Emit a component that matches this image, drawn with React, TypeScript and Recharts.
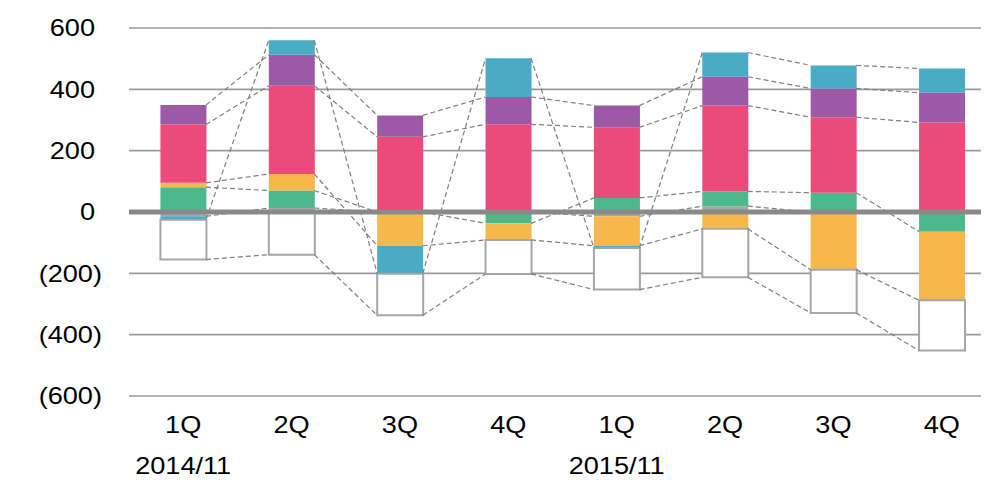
import {
  ComposedChart,
  Bar,
  Line,
  XAxis,
  YAxis,
  CartesianGrid,
  ReferenceLine,
} from "recharts";

// quarters and the fiscal-year label under the first quarter of each year
const quarters = ["1Q", "2Q", "3Q", "4Q", "1Q", "2Q", "3Q", "4Q"];
const yearLabels = ["2014/11", "", "", "", "2015/11", "", "", ""];

// stacked components, bottom to top (negatives stack downwards in the same order)
const grayVals = [-14, 13, 0, 0, -14, 19, 0, 0];
const greenVals = [81, 57, 0, -37, 46, 48, 63, -64];
const yellowVals = [14, 54, -110, -54, -96, -55, -188, -224];
const pinkVals = [190, 288, 245, 286, 230, 280, 246, 292];
const purpleVals = [64, 101, 70, 89, 71, 94, 94, 97];
const blueVals = [-11, 47, -91, 126, -7, 79, 75, 79];
const whiteVals = [-130, -139, -136, -111, -136, -158, -141, -164];

const yTicks = [-600, -400, -200, 0, 200, 400, 600];

const SERIES = [
  { key: "gray", values: grayVals, fill: "#a5a5a5" },
  { key: "green", values: greenVals, fill: "#4bb98c" },
  { key: "yellow", values: yellowVals, fill: "#f7b84b" },
  { key: "pink", values: pinkVals, fill: "#ec4a78" },
  { key: "purple", values: purpleVals, fill: "#9b59a6" },
  { key: "blue", values: blueVals, fill: "#4aabc5" },
  { key: "white", values: whiteVals, fill: "#ffffff" },
];

const FONT = '"Liberation Sans", Arial, sans-serif';
const FONT_SIZE = 23;
const STRETCH = 1.18; // the original labels are set wide
const CATEGORY_GAP = 0.29; // per side, fraction of the band
const HALF_BAR = 0.5 - CATEGORY_GAP;

const rows = quarters.map((q, i) => {
  const row: Record<string, string | number> = { q, idx: i };
  SERIES.forEach((s) => (row[s.key] = s.values[i]));
  return row;
});

// where each series ends in each stacked bar (same sign-split stacking as the bars)
const stackEnds = quarters.map((_, i) => {
  let pos = 0;
  let neg = 0;
  const ends: Record<string, number> = {};
  SERIES.forEach((s) => {
    const v = s.values[i];
    if (v >= 0) {
      pos += v;
      ends[s.key] = pos;
    } else {
      neg += v;
      ends[s.key] = neg;
    }
  });
  return ends;
});

// series lines: right edge of one bar to left edge of the next, broken by null rows
const linkRows: Record<string, number | null>[] = [];
for (let i = 0; i < quarters.length - 1; i++) {
  const a: Record<string, number | null> = { x: i + 0.5 + HALF_BAR };
  const b: Record<string, number | null> = { x: i + 1.5 - HALF_BAR };
  const gap: Record<string, number | null> = { x: i + 1.5 };
  SERIES.forEach((s) => {
    a[s.key] = stackEnds[i][s.key];
    b[s.key] = stackEnds[i + 1][s.key];
    gap[s.key] = null;
  });
  linkRows.push(a, b, gap);
}

function WideText({ x, y, anchor, dy, children }: any) {
  return (
    <text
      transform={`translate(${x},${y}) scale(${STRETCH},1)`}
      x={0}
      y={0}
      dy={dy}
      textAnchor={anchor}
      fontSize={FONT_SIZE}
      fontFamily={FONT}
      fill="#000"
    >
      {children}
    </text>
  );
}

function YTick(props: any) {
  const { x, y, payload } = props;
  const v = payload.value as number;
  const text = v < 0 ? `(${Math.abs(v)})` : `${v}`;
  return (
    <WideText x={v < 0 ? x : x - 7} y={y} anchor="end" dy="0.355em">
      {text}
    </WideText>
  );
}

function XTick(props: any) {
  const { x, y, payload, index } = props;
  const year = yearLabels[index];
  return (
    <g>
      <WideText x={x} y={y} anchor="middle" dy="0.71em">
        {payload.value}
      </WideText>
      {year ? (
        <WideText x={x} y={y + 41} anchor="middle" dy="0.71em">
          {year}
        </WideText>
      ) : null}
    </g>
  );
}

export default function App() {
  return (
    <div style={{ width: 981, height: 476, overflow: "hidden", fontFamily: FONT }}>
      <ComposedChart
        width={988}
        height={476}
        data={rows}
        stackOffset="sign"
        barCategoryGap={`${CATEGORY_GAP * 100}%`}
        margin={{ top: 20, right: 0, bottom: 0, left: 0 }}
      >
        <CartesianGrid vertical={false} stroke="#999" strokeWidth={1.6} />
        <XAxis
          dataKey="q"
          interval={0}
          axisLine={false}
          tickLine={false}
          tickSize={0}
          tickMargin={21}
          height={88}
          tick={<XTick />}
        />
        <XAxis xAxisId="link" type="number" dataKey="x" domain={[0, 8]} allowDataOverflow hide />
        <YAxis
          domain={[-600, 600]}
          ticks={yTicks}
          interval={0}
          axisLine={false}
          tickLine={false}
          tickSize={0}
          tickMargin={27}
          width={121}
          tick={<YTick />}
        />
        {SERIES.map((s) => (
          <Line
            key={`link-${s.key}`}
            xAxisId="link"
            data={linkRows}
            dataKey={s.key}
            stroke="#7f7f7f"
            strokeWidth={1.2}
            strokeDasharray="5 3"
            dot={false}
            activeDot={false}
            connectNulls={false}
            legendType="none"
            isAnimationActive={false}
          />
        ))}
        {SERIES.map((s) => (
          <Bar
            key={s.key}
            dataKey={s.key}
            stackId="s"
            fill={s.fill}
            stroke={s.key === "white" ? "#a6a6a6" : "none"}
            strokeWidth={s.key === "white" ? 2 : 0}
            isAnimationActive={false}
          />
        ))}
        <ReferenceLine y={0} stroke="#898989" strokeWidth={5} />
      </ComposedChart>
    </div>
  );
}
